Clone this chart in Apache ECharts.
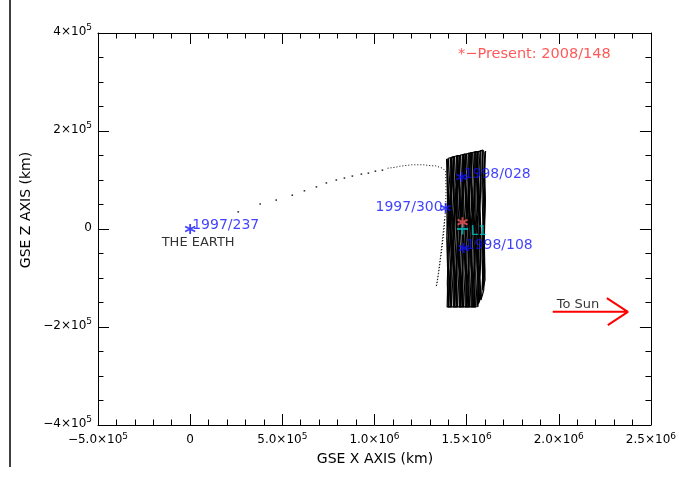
<!DOCTYPE html>
<html>
<head>
<meta charset="utf-8">
<script src="https://cdn.jsdelivr.net/npm/echarts@6/dist/echarts.min.js"></script>
<style>
  html, body { margin: 0; padding: 0; background: #fff; }
  #chart { width: 679px; height: 481px; }
</style>
</head>
<body>
<div id="chart"></div>
<script>
// GSE X-Z projection of the spacecraft trajectory (positions in thousands of km)
const KM = 1000;

// Axis ticks and their labels (mantissa / power of ten)
const xTickValues = [-500000, 0, 500000, 1000000, 1500000, 2000000, 2500000];
const xTickMantissa = ['\u22125.0', '0', '5.0', '1.0', '1.5', '2.0', '2.5'];
const xTickExp = ['5', '', '5', '6', '6', '6', '6'];
const yTickValues = [-400000, -200000, 0, 200000, 400000];
const yTickMantissa = ['\u22124', '\u22122', '0', '2', '4'];
const yTickExp = ['5', '5', '', '5', '5'];

// Cruise from Earth toward L1 (sparse daily fixes)
const cruise = [
  [261, 35], [380, 51], [467, 59], [554, 69], [620, 78], [685, 86],
  [739, 94], [793, 100], [837, 104], [880, 108], [929, 112], [967, 114],
  [1005, 118], [1043, 120]
];

// Approach and insertion into the halo orbit
const approach = [
  [1071, 124], [1092, 125], [1114, 126], [1136, 128], [1158, 129], [1179, 130],
  [1201, 131], [1223, 131], [1245, 131], [1266, 131], [1288, 130], [1310, 129],
  [1332, 129], [1353, 126], [1370, 124], [1386, 118], [1388, 80], [1386, 43],
  [1378, 0], [1366, -40], [1352, -80], [1340, -110], [1335, -118],
  [1345, -95], [1360, -50], [1372, -10], [1380, 20]
];

// Halo orbit about L1: successive revolutions
const haloA = [
  [1391, 143], [1396, 60], [1392, -20], [1398, -100], [1394, -159],
  [1410, -159], [1404, -80], [1410, 0], [1405, 80], [1412, 145],
  [1426, 147], [1420, 70], [1427, -10], [1421, -90], [1428, -159],
  [1442, -159], [1437, -70], [1444, 10], [1438, 90], [1444, 149],
  [1458, 150], [1452, 70], [1460, -10], [1454, -90], [1460, -159],
  [1474, -159], [1469, -80], [1476, 0], [1470, 80], [1476, 151],
  [1490, 153], [1484, 70], [1492, -10], [1486, -90], [1492, -159],
  [1506, -159], [1500, -80], [1508, 0], [1502, 80], [1508, 154],
  [1522, 155], [1516, 70], [1524, -10], [1518, -90], [1524, -159],
  [1538, -159], [1533, -80], [1540, 0], [1534, 80], [1540, 157],
  [1555, 158], [1550, 70], [1556, -10], [1550, -90], [1556, -157],
  [1570, -145], [1566, -60], [1572, 20], [1566, 100], [1572, 159],
  [1587, 161], [1583, 80], [1589, 0], [1584, -60], [1588, -125],
  [1600, -104], [1596, -20], [1602, 60], [1598, 120], [1603, 159],
  [1595, 160], [1590, 90], [1597, 10], [1591, -60], [1582, -135],
  [1565, -152], [1560, -70], [1567, 10], [1561, 90], [1563, 158],
  [1547, 157], [1542, 80], [1549, 0], [1543, -80], [1548, -159],
  [1531, -159], [1526, -70], [1533, 10], [1527, 90], [1531, 156],
  [1515, 154], [1510, 80], [1517, 0], [1511, -80], [1516, -159],
  [1499, -159], [1494, -70], [1501, 10], [1495, 90], [1499, 153],
  [1482, 152], [1477, 80], [1484, 0], [1478, -80], [1483, -159],
  [1466, -159], [1461, -70], [1468, 10], [1462, 90], [1466, 150],
  [1450, 149], [1445, 80], [1452, 0], [1446, -80], [1450, -159],
  [1434, -159], [1429, -70], [1436, 10], [1430, 90], [1434, 148],
  [1418, 146], [1413, 80], [1420, 0], [1414, -80], [1418, -159],
  [1402, -159], [1397, -70], [1404, 10], [1398, 90], [1400, 144]
];
const haloB = [
  [1395, 144], [1400, 90], [1394, 30], [1401, -40], [1395, -110], [1399, -159],
  [1414, -159], [1409, -110], [1415, -50], [1408, 20], [1414, 90], [1416, 146],
  [1430, 148], [1425, 100], [1431, 40], [1424, -30], [1431, -100], [1432, -159],
  [1446, -159], [1441, -100], [1448, -30], [1441, 40], [1447, 110], [1448, 149],
  [1462, 150], [1456, 100], [1463, 30], [1457, -40], [1463, -110], [1464, -159],
  [1478, -159], [1473, -110], [1480, -40], [1473, 30], [1480, 100], [1480, 152],
  [1494, 153], [1489, 100], [1496, 30], [1489, -40], [1496, -110], [1496, -159],
  [1510, -159], [1505, -100], [1512, -30], [1505, 40], [1512, 110], [1512, 154],
  [1526, 156], [1521, 100], [1528, 30], [1521, -40], [1528, -110], [1528, -159],
  [1542, -159], [1537, -100], [1544, -30], [1537, 40], [1544, 110], [1544, 157],
  [1559, 158], [1554, 100], [1560, 30], [1553, -40], [1560, -110], [1559, -156],
  [1574, -140], [1569, -90], [1576, -20], [1569, 50], [1576, 120], [1576, 160],
  [1591, 160], [1586, 110], [1593, 40], [1586, -30], [1592, -90], [1591, -118],
  [1599, 158], [1594, 120], [1600, 50], [1593, -20], [1598, -85], [1593, -125],
  [1578, -145], [1573, -100], [1580, -30], [1573, 40], [1579, 110], [1578, 159],
  [1562, 158], [1557, 110], [1564, 40], [1557, -30], [1564, -100], [1562, -158],
  [1546, -159], [1541, -110], [1548, -40], [1541, 30], [1548, 100], [1547, 157],
  [1530, 156], [1525, 110], [1532, 40], [1525, -30], [1532, -100], [1531, -159],
  [1514, -159], [1509, -110], [1516, -40], [1509, 30], [1516, 100], [1514, 155],
  [1498, 153], [1493, 110], [1500, 40], [1493, -30], [1500, -100], [1499, -159],
  [1482, -159], [1477, -110], [1484, -40], [1477, 30], [1484, 100], [1483, 152],
  [1466, 151], [1461, 110], [1468, 40], [1461, -30], [1468, -100], [1467, -159],
  [1450, -159], [1445, -110], [1452, -40], [1445, 30], [1452, 100], [1451, 150],
  [1434, 148], [1429, 110], [1436, 40], [1429, -30], [1436, -100], [1435, -159],
  [1418, -159], [1413, -110], [1420, -40], [1413, 30], [1420, 100], [1419, 146],
  [1403, 145], [1398, 110], [1404, 40], [1397, -30], [1404, -100], [1402, -159]
];

// Dated positions along the trajectory
const epochNames = ['1997/237', '1997/300', '1998/028', '1998/108'];
const epochPos = [[0, 0], [1386, 43], [1473, 106], [1484, -39]];
const presentDate = '2008/148';
const presentPos = [1478, 14];
const l1Pos = [1478, 0];

// Sunward arrow
const sunArrow = [[1967, -169], [2375, -169], [2261, -141], [2375, -169], [2266, -196]];

const toKm = p => [p[0] * KM, p[1] * KM];

const FONT = 'DejaVu Sans';
const BLUE = '#1010ff';
const starPath = 'path://M0,-5L0,5M-4.33,-2.5L4.33,2.5M-4.33,2.5L4.33,-2.5';

const tickRich = {
  b: { fontFamily: FONT, fontSize: 12, lineHeight: 14, padding: [5, 0, 0, 0], verticalAlign: 'bottom', color: '#000' },
  s: { fontFamily: FONT, fontSize: 9, lineHeight: 9, verticalAlign: 'top', color: '#000' }
};

function tickText(values, mant, exp) {
  return function (v) {
    const i = values.indexOf(v);
    if (i < 0) return '';
    if (!exp[i]) return '{b|' + mant[i] + '}';
    return '{b|' + mant[i] + '\u00d710}{s|' + exp[i] + '}';
  };
}

const axisLine = { onZero: false, lineStyle: { color: '#000', width: 1 } };
const axisTick = { inside: true, length: 11, lineStyle: { color: '#000', width: 1 } };
const minorX = { show: true, splitNumber: 5, length: 5.5, lineStyle: { color: '#000' } };
const minorY = { show: true, splitNumber: 4, length: 5.5, lineStyle: { color: '#000' } };

const labelStyle = (text, color, dx, dy, align) => ({
  show: true, formatter: text, position: 'inside', align: align, verticalAlign: 'middle',
  offset: [dx, dy], color: color, fontFamily: FONT, fontSize: 14
});

const chart = echarts.init(document.getElementById('chart'), null, { renderer: 'canvas' });

chart.setOption({
  animation: false,
  backgroundColor: '#fff',
  grid: { left: 98, right: 28, top: 33, bottom: 56 },
  xAxis: [
    {
      type: 'value', min: -500000, max: 2500000, interval: 500000, position: 'bottom',
      axisLine, axisTick, minorTick: minorX, splitLine: { show: false },
      axisLabel: { margin: 7, formatter: tickText(xTickValues, xTickMantissa, xTickExp), rich: tickRich }
    },
    {
      type: 'value', min: -500000, max: 2500000, interval: 500000, position: 'top',
      axisLine, axisTick, minorTick: minorX, splitLine: { show: false }, axisLabel: { show: false }
    }
  ],
  yAxis: [
    {
      type: 'value', min: -400000, max: 400000, interval: 200000, position: 'left',
      axisLine, axisTick, minorTick: minorY, splitLine: { show: false },
      axisLabel: { margin: 6, padding: [0, 0, 5, 0], formatter: tickText(yTickValues, yTickMantissa, yTickExp), rich: tickRich }
    },
    {
      type: 'value', min: -400000, max: 400000, interval: 200000, position: 'right',
      axisLine, axisTick, minorTick: minorY, splitLine: { show: false }, axisLabel: { show: false }
    }
  ],
  series: [
    {
      name: 'cruise', type: 'scatter', symbol: 'rect', symbolSize: 1.6, silent: true,
      itemStyle: { color: '#000' }, data: cruise.map(toKm)
    },
    {
      name: 'approach', type: 'line', symbol: 'none', silent: true,
      lineStyle: { color: '#000', width: 1, type: [1, 2] }, data: approach.map(toKm)
    },
    {
      name: 'haloA', type: 'line', symbol: 'none', silent: true,
      lineStyle: { color: '#000', width: 1.1 }, data: haloA.map(toKm)
    },
    {
      name: 'haloB', type: 'line', symbol: 'none', silent: true,
      lineStyle: { color: '#000', width: 1.1 }, data: haloB.map(toKm)
    },
    {
      name: 'L1', type: 'scatter', symbol: 'path://M0,-5L0,5M-5,0L5,0', symbolSize: 11, silent: true, z: 6,
      itemStyle: { color: 'none', borderColor: '#00c8c8', borderWidth: 1.8 },
      data: [{ value: toKm(l1Pos), label: labelStyle('L1', '#00c8c8', 8, 2, 'left') }]
    },
    {
      name: 'present', type: 'scatter', symbol: starPath, symbolSize: 10, silent: true, z: 6,
      itemStyle: { color: 'none', borderColor: '#ff5a5a', borderWidth: 1.8 },
      data: [toKm(presentPos)]
    },
    {
      name: 'epochs', type: 'scatter', symbol: starPath, symbolSize: 10, silent: true, z: 6,
      itemStyle: { color: 'none', borderColor: BLUE, borderWidth: 1.8 },
      data: [
        { value: toKm(epochPos[0]), label: labelStyle(epochNames[0], BLUE, 2, -4, 'left') },
        { value: toKm(epochPos[1]), label: labelStyle(epochNames[1], BLUE, -3, -1, 'right') },
        { value: toKm(epochPos[2]), label: labelStyle(epochNames[2], BLUE, 2, -3, 'left') },
        { value: toKm(epochPos[3]), label: labelStyle(epochNames[3], BLUE, 2, -3, 'left') }
      ]
    },
    {
      name: 'earth', type: 'scatter', symbol: 'circle', symbolSize: 1, silent: true, z: 6,
      itemStyle: { color: 'rgba(0,0,0,0)' },
      data: [{ value: toKm(epochPos[0]), label: Object.assign(labelStyle('THE EARTH', '#000', 8, 14, 'center'), { fontSize: 13 }) }]
    },
    {
      name: 'toSun', type: 'line', symbol: 'none', silent: true,
      lineStyle: { color: '#ff0000', width: 2 }, data: sunArrow.map(toKm)
    },
    {
      name: 'toSunLabel', type: 'scatter', symbol: 'circle', symbolSize: 1, silent: true, z: 6,
      itemStyle: { color: 'rgba(0,0,0,0)' },
      data: [{ value: toKm(sunArrow[0]), label: Object.assign(labelStyle('To Sun', '#000', 4, -7, 'left'), { fontSize: 13 }) }]
    }
  ],
  graphic: [
    { type: 'line', shape: { x1: 10, y1: 0, x2: 10, y2: 467 }, style: { stroke: '#000', lineWidth: 1.5 } },
    { type: 'text', left: 458, top: 47, style: { text: '*\u2212Present: ' + presentDate, fill: '#ff5a5a', font: '14.5px "DejaVu Sans"' } },
    { type: 'text', x: 375, y: 459, style: { text: 'GSE X AXIS (km)', fill: '#000', font: '14px "DejaVu Sans"', align: 'center', verticalAlign: 'middle' } },
    { type: 'text', x: 26, y: 210, rotation: Math.PI / 2, style: { text: 'GSE Z AXIS (km)', fill: '#000', font: '14px "DejaVu Sans"', align: 'center', verticalAlign: 'middle' } }
  ]
});
</script>
</body>
</html>
